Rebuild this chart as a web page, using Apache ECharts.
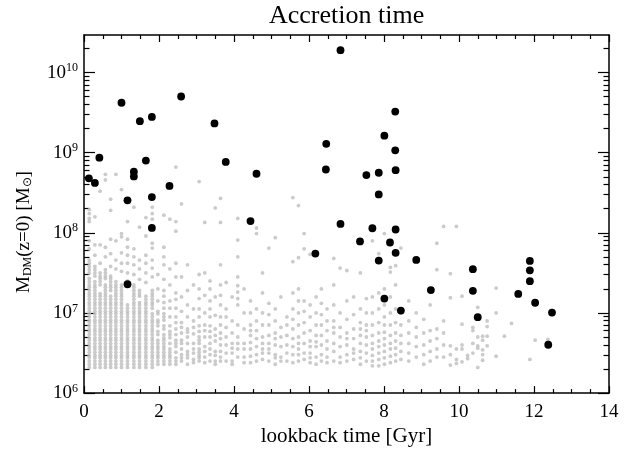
<!DOCTYPE html>
<html><head><meta charset="utf-8">
<script src="https://cdn.jsdelivr.net/npm/echarts@6/dist/echarts.min.js"></script>
<style>html,body{margin:0;padding:0;background:#fff}#c{width:631px;height:452px}</style>
</head><body><div id="c"></div>
<script>
// Satellite (black) accretion times [Gyr] and masses [Msun]
const blackT = [6.84,1.00,2.59,1.49,1.81,3.48,6.46,8.30,8.01,8.30,0.41,1.65,3.78,1.33,1.33,4.60,0.13,0.29,2.28,1.16,1.81,4.44,1.81,1.16,
  6.45,7.53,7.86,8.31,7.86,6.84,7.69,8.31,7.36,8.16,8.31,6.17,7.86,8.86,9.25,8.01,8.45,10.37,10.37,10.50,11.89,11.89,11.89,11.58,12.03,12.48,12.38];
const blackM = [1.90e10,4.20e9,5.02e9,2.47e9,2.79e9,2.32e9,1.29e9,3.26e9,1.63e9,1.07e9,8.67e8,7.96e8,7.67e8,5.78e8,5.06e8,5.46e8,4.78e8,4.19e8,3.85e8,2.54e8,2.79e8,1.40e8,1.15e8,2.28e7,
  6.17e8,5.25e8,5.62e8,6.05e8,3.01e8,1.29e8,1.14e8,1.10e8,7.80e7,7.57e7,5.62e7,5.50e7,4.51e7,4.59e7,1.93e7,1.51e7,1.07e7,3.52e7,1.89e7,8.87e6,4.46e7,3.40e7,2.49e7,1.73e7,1.34e7,1.01e7,4.01e6];

// All subhaloes (grey): snapshot lookback times [Gyr] and log10 masses at each time
const grayT = [0.14,0.29,0.43,0.57,0.71,0.85,1.00,1.16,1.33,1.48,1.65,1.82,1.97,2.13,2.29,2.45,2.60,2.76,2.92,3.07,3.22,3.36,3.50,3.64,3.79,3.95,4.10,4.27,4.44,4.60,4.76,
  4.93,5.10,5.25,5.41,5.57,5.72,5.87,6.03,6.19,6.33,6.48,6.66,6.83,7.01,7.19,7.37,7.53,7.69,7.86,8.01,8.17,8.31,8.45,8.66,8.86,9.06,9.23,9.41,9.59,9.77,9.93,10.08,10.23,10.37,10.50,10.63,10.75,10.99,11.21,11.40,11.89,12.03,12.37];
const grayLogM = [
 [6.32,6.36,6.40,6.44,6.47,6.51,6.55,6.58,6.62,6.66,6.69,6.73,6.77,6.80,6.84,6.88,6.91,6.95,6.99,7.02,7.06,7.10,7.13,7.17,7.21,7.24,7.28,7.32,7.35,7.39,7.43,7.50,7.54,7.58,7.62,7.66,7.80,7.90,8.14,8.18,8.24,8.29],
 [6.32,6.36,6.40,6.44,6.47,6.51,6.55,6.58,6.62,6.66,6.69,6.73,6.77,6.80,6.84,6.88,6.91,6.95,6.99,7.02,7.06,7.10,7.13,7.17,7.21,7.24,7.28,7.32,7.35,7.39,7.46,7.50,7.54,7.58,7.72,7.85,8.20],
 [6.32,6.36,6.40,6.44,6.47,6.51,6.55,6.58,6.62,6.66,6.69,6.73,6.77,6.80,6.84,6.88,6.91,6.95,6.99,7.02,7.06,7.10,7.13,7.17,7.21,7.24,7.35,7.39,7.43,7.46,7.50,7.62,7.85,8.52],
 [6.32,6.36,6.40,6.44,6.47,6.51,6.55,6.58,6.62,6.66,6.69,6.73,6.77,6.80,6.84,6.88,6.91,6.95,6.99,7.02,7.06,7.10,7.13,7.17,7.21,7.24,7.28,7.32,7.35,7.43,7.46,7.50,7.54,7.70,7.82,8.66,8.73],
 [6.32,6.36,6.40,6.44,6.47,6.51,6.55,6.58,6.62,6.66,6.69,6.73,6.77,6.80,6.84,6.88,6.91,6.95,6.99,7.02,7.06,7.10,7.13,7.17,7.21,7.28,7.32,7.35,7.39,7.43,7.46,7.58,7.74,7.92,8.28,8.42],
 [6.32,6.36,6.40,6.44,6.47,6.51,6.55,6.58,6.62,6.66,6.69,6.73,6.77,6.80,6.84,6.88,6.91,6.95,6.99,7.02,7.06,7.10,7.13,7.17,7.21,7.24,7.28,7.32,7.35,7.39,7.55,7.66,7.90,8.73],
 [6.32,6.36,6.40,6.44,6.47,6.51,6.55,6.58,6.62,6.66,6.69,6.73,6.77,6.80,6.84,6.88,6.91,6.95,6.99,7.02,7.06,7.10,7.13,7.17,7.21,7.24,7.28,7.32,7.35,7.52,7.62,7.75,7.95,7.99,8.54],
 [6.32,6.36,6.40,6.44,6.47,6.51,6.55,6.58,6.62,6.66,6.69,6.73,6.77,6.80,6.84,6.88,6.91,6.95,6.99,7.02,7.06,7.10,7.40,7.50,7.62,7.72,7.82,7.92,8.14],
 [6.32,6.36,6.40,6.44,6.47,6.51,6.55,6.58,6.62,6.66,6.69,6.73,6.77,6.80,6.84,6.88,6.91,6.95,6.99,7.02,7.06,7.10,7.13,7.17,7.21,7.24,7.28,7.32,7.35,7.48,7.60,7.70,7.80,8.32],
 [6.32,6.36,6.40,6.44,6.47,6.51,6.55,6.58,6.62,6.66,6.69,6.73,6.77,6.80,6.84,6.88,6.91,6.95,6.99,7.02,7.06,7.10,7.13,7.21,7.24,7.28,7.42,7.55,7.66,8.07],
 [6.32,6.36,6.40,6.44,6.47,6.51,6.55,6.58,6.62,6.66,6.69,6.73,6.77,6.80,6.84,6.88,6.91,6.95,6.99,7.02,7.06,7.10,7.13,7.17,7.21,7.38,7.50,7.62,7.72,7.96,8.19],
 [6.32,6.36,6.40,6.44,6.47,6.51,6.55,6.58,6.62,6.66,6.69,6.73,6.77,6.80,6.84,6.88,6.91,6.95,6.99,7.06,7.10,7.13,7.17,7.21,7.24,7.28,7.45,7.56,7.66,7.81,7.87,8.17,8.24,8.32],
 [6.36,6.40,6.44,6.47,6.51,6.55,6.58,6.62,6.66,6.73,6.77,6.84,6.88,6.91,6.99,7.02,7.15,7.30,7.48],
 [6.36,6.40,6.44,6.47,6.51,6.55,6.58,6.62,6.66,6.69,6.73,6.80,6.84,6.91,6.95,6.99,7.06,7.13,7.21,7.28,7.42,7.60,7.70,7.82,8.22],
 [6.36,6.40,6.44,6.47,6.51,6.55,6.62,6.69,6.73,6.77,6.84,6.95,7.06,7.15,7.35,7.55,8.17],
 [6.36,6.40,6.44,6.51,6.58,6.62,6.66,6.73,6.80,6.88,6.95,7.06,7.17,7.25,7.45,7.62,8.02,8.14,8.82],
 [6.40,6.44,6.48,6.55,6.62,6.66,6.75,6.82,6.88,7.02,7.20,7.45,8.36],
 [6.36,6.44,6.48,6.52,6.62,6.70,6.76,6.80,6.95,7.10,7.28,7.60],
 [6.38,6.42,6.50,6.55,6.62,6.74,6.82,6.90,7.05,7.35],
 [6.40,6.44,6.47,6.51,6.55,6.62,6.66,6.70,6.77,6.84,6.95,7.05,7.18,7.30,7.48,8.64],
 [6.38,6.45,6.52,6.58,6.70,6.78,6.85,7.00,7.22,7.50,8.13],
 [6.40,6.48,6.55,6.62,6.70,6.77,6.84,6.95,7.05,7.15,7.30,7.40],
 [6.36,6.40,6.47,6.52,6.65,6.72,6.80,6.97,7.20,8.31],
 [6.40,6.45,6.52,6.60,6.68,6.75,6.85,6.95,7.10,7.22,7.35,7.60,8.13,8.43],
 [6.40,6.50,6.60,6.70,6.82,6.95,7.05,7.38],
 [6.36,6.40,6.50,6.56,6.62,6.75,6.90,7.20],
 [6.45,6.55,6.62,6.70,6.85,7.10,7.18,7.26,7.34,7.45,7.70,7.91,8.18],
 [6.38,6.45,6.55,6.62,6.80,7.00,7.30],
 [6.38,6.46,6.55,6.63,6.72,6.78,6.85,7.00,7.15],
 [6.40,6.48,6.58,6.68,6.78,6.90,7.05,7.99,8.06],
 [6.42,6.50,6.55,6.62,6.70,6.85,7.00,7.25,7.50],
 [6.40,6.50,6.55,6.62,6.72,6.85,6.98,7.12,7.81],
 [6.36,6.44,6.48,6.60,6.68,6.75,6.90,7.05,7.94],
 [6.40,6.45,6.58,6.70,6.82,7.20],
 [6.40,6.50,6.60,6.72,6.85,6.95],
 [6.38,6.48,6.58,6.68,6.80,6.92,7.05,7.25,7.64,8.44],
 [6.40,6.48,6.55,6.62,6.70,6.85,7.00,7.15,7.30,7.69,8.34],
 [6.42,6.50,6.62,6.75,6.88,7.02,7.15,7.80,7.99],
 [6.38,6.44,6.50,6.58,6.65,6.78,6.95,7.10,7.73],
 [6.36,6.45,6.58,6.64,6.72,6.85,7.00,7.20],
 [6.40,6.48,6.60,6.72,6.85,6.98,7.12,7.30],
 [6.38,6.45,6.55,6.65,6.78,6.90,7.05],
 [6.40,6.52,6.62,6.75,6.82,6.90,7.10,7.35,7.68],
 [6.38,6.45,6.58,6.70,6.82,7.00,7.56],
 [6.40,6.48,6.60,6.68,6.75,6.92,7.15,7.53],
 [6.42,6.50,6.55,6.68,6.80,6.98,7.20],
 [6.36,6.44,6.52,6.62,6.72,6.80,6.88,7.05,7.50],
 [6.40,6.50,6.60,6.70,6.78,6.85,7.00,7.18],
 [6.34,6.40,6.47,6.55,6.62,6.72,6.85,7.00,7.20,7.90],
 [6.34,6.42,6.50,6.58,6.65,6.75,6.88,7.05,7.25,7.68,7.74],
 [6.36,6.44,6.52,6.60,6.68,6.76,6.85,6.95,7.10,7.30,7.99],
 [6.38,6.46,6.55,6.62,6.72,6.85,7.00,7.20,7.51,7.57],
 [6.40,6.48,6.56,6.65,6.75,6.88,7.05,7.35,7.59],
 [6.42,6.52,6.62,6.72,6.85,7.00,7.81],
 [6.40,6.50,6.62,6.75,6.90,7.15],
 [6.45,6.58,6.70,6.82,7.00],
 [6.36,6.48,6.60,6.75,6.92],
 [6.40,6.52,6.65,6.78,7.10],
 [6.45,6.55,6.68,6.80,7.54,7.87],
 [6.45,6.60,6.75,6.90,8.08],
 [6.35,6.48,6.59,7.19,7.49],
 [6.37,6.42,6.55,8.08],
 [6.39,6.55,6.60,6.86,7.21],
 [6.43,6.47],
 [6.50,6.62,6.78,6.82],
 [6.32,6.56,6.59,6.70,7.07],
 [6.41,6.48,6.54,6.66,6.71],
 [6.59,6.71,6.83,6.90],
 [6.46,7.00,7.31],
 [6.71],
 [6.87],
 [6.42],
 [6.66],
 [6.67]
];

// Axis tick values
const xTicks = [0,2,4,6,8,10,12,14];
const yMajor = [1e6,1e7,1e8,1e9,1e10];
const yMinor = [];
[1e6,1e7,1e8,1e9,1e10].forEach(d => { for (let k = 2; k <= 9; k++) if (d*k < 2.94e10) yMinor.push(d*k); });

const grayData = [];
grayT.forEach((t, i) => grayLogM[i].forEach(v => grayData.push([t, Math.pow(10, v)])));
const blackData = blackT.map((t, i) => [t, blackM[i]]);

const FONT = "'Liberation Serif','Times New Roman',serif";
const lineStyle = { color: '#000', width: 1.5 };
const supRich = {
  b: { fontFamily: FONT, fontSize: 19, color: '#000' },
  s: { fontFamily: FONT, fontSize: 12, color: '#000', verticalAlign: 'top', padding: [0, 0, 9, 0] }
};
function expLabel(v) { const e = Math.round(Math.log10(v)); return '{b|10}{s|' + e + '}'; }

function yAx(pos, ticks, len, showLine, showLabel) {
  return {
    type: 'log', logBase: 10, min: 1e6, max: 2.94e10, position: pos,
    axisLine: { show: showLine, lineStyle: lineStyle },
    axisTick: { show: true, inside: true, length: len, customValues: ticks, lineStyle: { color: '#000', width: 1.2 } },
    axisLabel: showLabel ? { show: true, customValues: yMajor, formatter: expLabel, rich: supRich, margin: 6 } : { show: false },
    splitLine: { show: false },
    minorTick: { show: false }
  };
}
function xAx(pos, showLabel) {
  return {
    type: 'value', min: 0, max: 14, interval: 2, position: pos,
    axisLine: { show: true, onZero: false, lineStyle: lineStyle },
    axisTick: { show: true, inside: true, length: 7, lineStyle: { color: '#000', width: 1.2 } },
    minorTick: { show: true, splitNumber: 4, length: 4, lineStyle: { color: '#000', width: 1.2 } },
    axisLabel: showLabel ? { show: true, fontFamily: FONT, fontSize: 19, color: '#000', margin: 9 } : { show: false },
    splitLine: { show: false }
  };
}

const yAxes = [yAx('left', yMajor, 11, true, true), yAx('left', yMinor, 5.5, false, false), yAx('right', yMajor, 11, true, false), yAx('right', yMinor, 5.5, false, false)];
yAxes[0].name = 'M{sub|DM}(z=0) [M{sub|⊙}]';
yAxes[0].nameLocation = 'middle';
yAxes[0].nameGap = 50;
yAxes[0].nameTextStyle = {
  fontFamily: FONT, fontSize: 19, color: '#000', padding: [0, 36, 0, 0],
  rich: { sub: { fontFamily: FONT, fontSize: 12, color: '#000', verticalAlign: 'bottom', padding: [8, 0, 0, 0] } }
};
const xAxes = [xAx('bottom', true), xAx('top', false)];
xAxes[0].name = 'lookback time [Gyr]';
xAxes[0].nameLocation = 'middle';
xAxes[0].nameGap = 29;
xAxes[0].nameTextStyle = { fontFamily: FONT, fontSize: 21, color: '#000' };

const chart = echarts.init(document.getElementById('c'), null, { renderer: 'canvas' });
chart.setOption({
  animation: false,
  backgroundColor: '#fff',
  title: { text: 'Accretion time', left: 264, top: -2, textStyle: { fontFamily: FONT, fontSize: 26, fontWeight: 'normal', color: '#000' } },
  grid: { left: 84, right: 22, top: 35, bottom: 54, containLabel: false },
  xAxis: xAxes,
  yAxis: yAxes,
  series: [
    { type: 'scatter', xAxisIndex: 0, yAxisIndex: 0, data: grayData, symbol: 'circle', symbolSize: 3.8, itemStyle: { color: '#bebebe' }, silent: true, z: 2 },
    { type: 'scatter', xAxisIndex: 0, yAxisIndex: 0, data: blackData, symbol: 'circle', symbolSize: 7.8, itemStyle: { color: '#000', opacity: 1 }, silent: true, z: 3 }
  ]
});
</script></body></html>
